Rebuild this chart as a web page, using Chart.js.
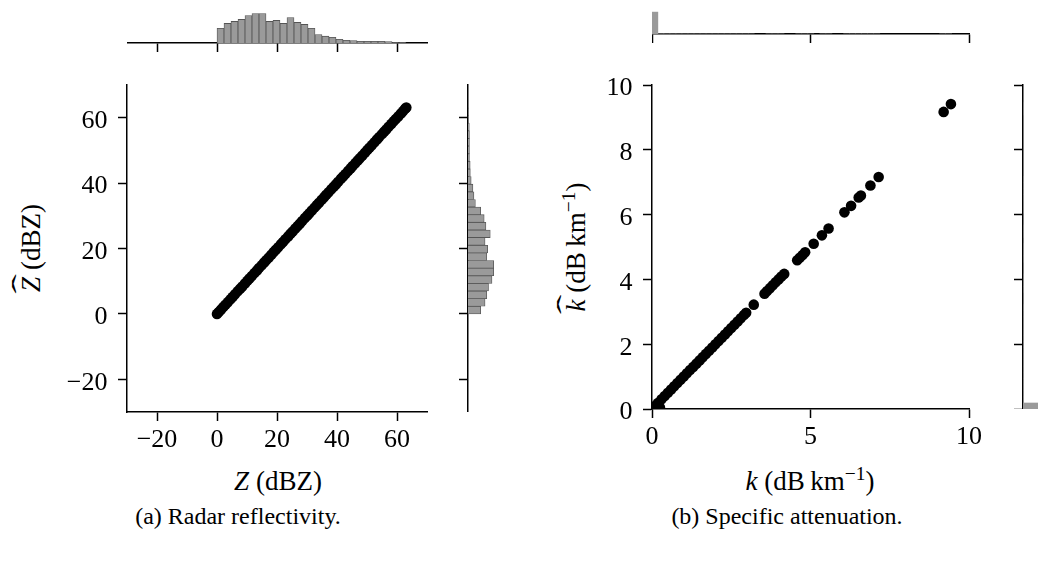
<!DOCTYPE html>
<html>
<head>
<meta charset="utf-8">
<title>Radar reflectivity and specific attenuation</title>
<script src="https://cdn.jsdelivr.net/npm/chart.js@4.4.1/dist/chart.umd.min.js"></script>
<style>
  html, body { margin: 0; padding: 0; background: #fff; }
  body {
    width: 1038px; height: 563px; overflow: hidden; position: relative;
    font-family: 'Liberation Serif', 'Times New Roman', serif; color: #000;
  }
  canvas { position: absolute; }
  .t { position: absolute; white-space: nowrap; font-size: 27px; line-height: 27px; }
  .h { transform: translateX(-50%); }
  .v { transform: translate(-50%, -50%) rotate(-90deg); }
  .cap { position: absolute; white-space: nowrap; font-size: 24px; line-height: 24px; transform: translateX(-50%); }
  .wh { position: relative; display: inline-block; }
  .wh .hat { position: absolute; left: 55%; top: -0.33em; transform: translateX(-50%) scaleX(2.2); font-style: normal; }
  .sup { font-size: 0.72em; position: relative; top: -0.5em; }
</style>
</head>
<body>
<div class="t h" style="left:278px;top:468px"><i>Z</i> (dBZ)</div>
<div class="t v" style="left:31px;top:248px"><span class="wh"><i>Z</i><span class="hat">ˆ</span></span> (dBZ)</div>
<div class="t h" style="left:810px;top:468px"><i>k</i> (dB&#8201;km<span class="sup">−1</span>)</div>
<div class="t v" style="left:577px;top:247px"><span class="wh"><i>k</i><span class="hat">ˆ</span></span> (dB&#8201;km<span class="sup">−1</span>)</div>
<div class="cap" style="left:238px;top:504px">(a) Radar reflectivity.</div>
<div class="cap" style="left:787px;top:504px">(b) Specific attenuation.</div>

<script>
// ---- data: radar reflectivity (dBZ) ----
const zTicks = [-20, 0, 20, 40, 60];
const zTrue = [0.0, 0.6, 1.3, 2.1, 2.8, 3.6, 4.5, 5.2, 6.0, 6.9, 7.7, 8.4, 9.3, 10.1, 10.8, 11.6,
  12.5, 13.3, 14.0, 14.9, 15.7, 16.4, 17.2, 18.1, 18.9, 19.6, 20.4, 21.3, 22.0, 22.8, 23.7, 24.5,
  25.2, 26.1, 26.9, 27.6, 28.4, 29.3, 30.1, 30.8, 31.6, 32.5, 33.3, 34.0, 34.9, 35.7, 36.4, 37.2,
  38.1, 38.9, 39.6, 40.4, 41.3, 42.0, 42.8, 43.7, 44.5, 45.2, 46.1, 46.9, 47.6, 48.4, 49.3, 50.1,
  50.8, 51.6, 52.5, 53.3, 54.0, 54.9, 55.7, 56.4, 57.2, 58.1, 58.9, 59.6, 60.4, 61.3, 62.0, 62.7, 63.1];
const zEst = [0.0, 0.6, 1.3, 2.1, 2.8, 3.6, 4.5, 5.2, 6.0, 6.9, 7.7, 8.4, 9.3, 10.1, 10.8, 11.6,
  12.5, 13.3, 14.0, 14.9, 15.7, 16.4, 17.2, 18.1, 18.9, 19.6, 20.4, 21.3, 22.0, 22.8, 23.7, 24.5,
  25.2, 26.1, 26.9, 27.6, 28.4, 29.3, 30.1, 30.8, 31.6, 32.5, 33.3, 34.0, 34.9, 35.7, 36.4, 37.2,
  38.1, 38.9, 39.6, 40.4, 41.3, 42.0, 42.8, 43.7, 44.5, 45.2, 46.1, 46.9, 47.6, 48.4, 49.3, 50.1,
  50.8, 51.6, 52.5, 53.3, 54.0, 54.9, 55.7, 56.4, 57.2, 58.1, 58.9, 59.6, 60.4, 61.3, 62.0, 62.7, 63.1];
// histogram of reflectivity (same samples on both margins)
const zBinCenters = [1.17, 3.50, 5.83, 8.17, 10.50, 12.83, 15.17, 17.50, 19.83, 22.17, 24.50, 26.83,
  29.17, 31.50, 33.83, 36.17, 38.50, 40.83, 43.17, 45.50, 47.83, 50.17, 52.50, 54.83, 57.17, 59.50, 61.83];
const zCounts = [440, 590, 650, 710, 830, 890, 890, 650, 680, 590, 770, 620, 560, 440, 255, 205,
  170, 110, 80, 75, 50, 50, 50, 50, 45, 15, 12];

// ---- data: specific attenuation (dB/km) ----
const kXTicks = [0, 5, 10];
const kYTicks = [0, 2, 4, 6, 8, 10];
const kTrue = [0.0, 0.15, 0.25, 0.08, 0.18, 0.3, 0.4, 0.5, 0.6, 0.7, 0.8, 0.9, 1.0, 1.1, 1.2, 1.3,
  1.4, 1.5, 1.6, 1.7, 1.8, 1.9, 2.0, 2.1, 2.2, 2.3, 2.4, 2.5, 2.6, 2.7, 2.8, 2.9, 2.97,
  3.21, 3.55, 3.63, 3.72, 3.81, 3.9, 3.99, 4.08, 4.17, 4.58, 4.66, 4.75, 4.83, 5.10, 5.36, 5.57,
  6.07, 6.28, 6.52, 6.59, 6.89, 7.15, 9.20, 9.43];
const kEst = [0.0, 0.02, 0.05, 0.08, 0.18, 0.3, 0.4, 0.5, 0.6, 0.7, 0.8, 0.9, 1.0, 1.1, 1.2, 1.3,
  1.4, 1.5, 1.6, 1.7, 1.8, 1.9, 2.0, 2.1, 2.2, 2.3, 2.4, 2.5, 2.6, 2.7, 2.8, 2.9, 2.97,
  3.22, 3.56, 3.64, 3.73, 3.82, 3.91, 4.0, 4.09, 4.17, 4.59, 4.67, 4.75, 4.84, 5.10, 5.36, 5.57,
  6.07, 6.27, 6.53, 6.59, 6.90, 7.16, 9.17, 9.41];
// histogram of attenuation (same samples on both margins)
const kBinCenters = [0.09, 0.28, 0.47, 0.66, 0.85, 1.04, 1.23, 1.42, 1.61, 1.80, 1.99, 2.18, 2.37,
  2.56, 2.75, 2.94, 3.13, 3.69, 3.88, 4.07, 4.63, 4.82, 5.01, 5.39, 5.58, 6.14, 6.33, 6.52, 6.71,
  6.90, 7.09, 9.17, 9.36];
const kCounts = [5230, 38, 27, 21, 16, 12, 10, 8, 7, 6, 5, 4, 4, 3, 3, 3, 1, 3, 4, 2, 2, 2, 1, 1, 1,
  1, 1, 2, 1, 1, 1, 1, 1];

// ---- styling helpers ----
const FAMILY = "'Liberation Serif', 'Times New Roman', serif";
const BLACK = '#000';
const BAR_FILL = '#9a9a9a';
const BAR_EDGE = '#555';

function fmt(v) { return v < 0 ? '\u2212' + Math.abs(v) : String(v); }

function linearAxis({ position, min, max, ticks, labels, size }) {
  const horizontal = position === 'bottom';
  return {
    type: 'linear', position, min, max, offset: false,
    afterBuildTicks: (s) => { s.ticks = ticks.map((value) => ({ value })); },
    afterFit: (s) => {
      if (horizontal) { s.height = size; s.paddingLeft = 0; s.paddingRight = 0; }
      else { s.width = size; s.paddingTop = 0; s.paddingBottom = 0; }
    },
    ticks: {
      display: labels, autoSkip: false, maxRotation: 0, minRotation: 0,
      font: { family: FAMILY, size: 26 }, color: BLACK,
      padding: horizontal ? 4 : 10.5,
      labelOffset: horizontal ? 0 : 3.5,
      callback: (v) => fmt(v),
    },
    grid: {
      offset: false, drawOnChartArea: false, drawTicks: true, tickLength: 9,
      tickWidth: 1.5, tickColor: BLACK, color: BLACK,
    },
    border: { display: true, color: BLACK, width: 1.5 },
  };
}

function countAxis(max) { return { type: 'linear', display: false, min: 0, max, offset: false }; }

// area: plot rectangle in page pixels; axisBox: room for the left / bottom axis; pad: room above and right
function makeChart(area, axisBox, pad, config) {
  const canvas = document.createElement('canvas');
  const width = (area.R - area.L) + axisBox.y + pad.right;
  const height = (area.B - area.T) + axisBox.x + pad.top;
  canvas.width = width; canvas.height = height;
  canvas.style.width = width + 'px'; canvas.style.height = height + 'px';
  canvas.style.left = (area.L - axisBox.y) + 'px';
  canvas.style.top = (area.T - pad.top) + 'px';
  document.body.appendChild(canvas);
  config.options = Object.assign({
    responsive: false, animation: false, devicePixelRatio: 1, events: [],
    layout: { padding: { top: pad.top, right: pad.right, left: 0, bottom: 0 } },
    plugins: { legend: { display: false }, tooltip: { enabled: false } },
  }, config.options);
  return new Chart(canvas, config);
}

function scatterSet(xs, ys) {
  return {
    data: xs.map((v, i) => ({ x: v, y: ys[i] })),
    pointRadius: 5.3, pointBorderWidth: 0,
    pointBackgroundColor: BLACK, backgroundColor: BLACK, borderColor: BLACK,
  };
}

function histSet(points, edged) {
  return {
    data: points, backgroundColor: BAR_FILL,
    borderColor: BAR_EDGE, borderWidth: edged ? 0.8 : 0,
    barPercentage: 1, categoryPercentage: 1,
  };
}

const zMaxCount = Math.max(...zCounts) * 1.05;
const kMaxCount = Math.max(...kCounts) * 1.05;

// (a) joint plot
makeChart({ L: 127, T: 85, R: 427, B: 412 }, { y: 70, x: 45 }, { top: 20, right: 20 }, {
  type: 'scatter',
  data: { datasets: [scatterSet(zTrue, zEst)] },
  options: { scales: {
    x: linearAxis({ position: 'bottom', min: -30, max: 70, ticks: zTicks, labels: true, size: 45 }),
    y: linearAxis({ position: 'left', min: -30, max: 70, ticks: zTicks, labels: true, size: 70 }),
  } },
});
makeChart({ L: 127, T: 12, R: 427, B: 43 }, { y: 0, x: 12 }, { top: 3, right: 2 }, {
  type: 'bar',
  data: { datasets: [histSet(zBinCenters.map((c, i) => ({ x: c, y: zCounts[i] })), true)] },
  options: { scales: {
    x: linearAxis({ position: 'bottom', min: -30, max: 70, ticks: zTicks, labels: false, size: 12 }),
    y: countAxis(zMaxCount),
  } },
});
makeChart({ L: 468, T: 85, R: 495, B: 412 }, { y: 12, x: 0 }, { top: 3, right: 2 }, {
  type: 'bar',
  data: { datasets: [histSet(zBinCenters.map((c, i) => ({ x: zCounts[i], y: c })), true)] },
  options: { indexAxis: 'y', scales: {
    x: countAxis(zMaxCount),
    y: linearAxis({ position: 'left', min: -30, max: 70, ticks: zTicks, labels: false, size: 12 }),
  } },
});

// (b) joint plot
makeChart({ L: 652, T: 85, R: 969, B: 409 }, { y: 70, x: 45 }, { top: 20, right: 20 }, {
  type: 'scatter',
  data: { datasets: [scatterSet(kTrue, kEst)] },
  options: { scales: {
    x: linearAxis({ position: 'bottom', min: 0, max: 10, ticks: kXTicks, labels: true, size: 45 }),
    y: linearAxis({ position: 'left', min: 0, max: 10, ticks: kYTicks, labels: true, size: 70 }),
  } },
});
makeChart({ L: 652, T: 11, R: 969, B: 34 }, { y: 0, x: 12 }, { top: 3, right: 2 }, {
  type: 'bar',
  data: { datasets: [histSet(kBinCenters.map((c, i) => ({ x: c, y: kCounts[i] })), false)] },
  options: { scales: {
    x: linearAxis({ position: 'bottom', min: 0, max: 10, ticks: kXTicks, labels: false, size: 12 }),
    y: countAxis(kMaxCount),
  } },
});
makeChart({ L: 1023, T: 85, R: 1046, B: 409 }, { y: 12, x: 0 }, { top: 3, right: 2 }, {
  type: 'bar',
  data: { datasets: [histSet(kBinCenters.map((c, i) => ({ x: kCounts[i], y: c })), false)] },
  options: { indexAxis: 'y', scales: {
    x: countAxis(kMaxCount),
    y: linearAxis({ position: 'left', min: 0, max: 10, ticks: kYTicks, labels: false, size: 12 }),
  } },
});
</script>
</body>
</html>
